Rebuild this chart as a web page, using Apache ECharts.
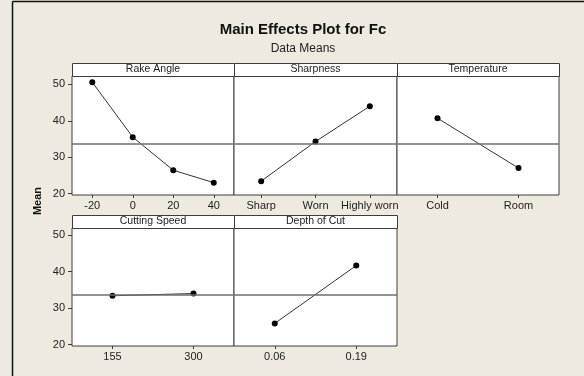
<!DOCTYPE html>
<html>
<head>
<meta charset="utf-8">
<script src="https://cdn.jsdelivr.net/npm/echarts@6/dist/echarts.min.js"></script>
<style>
  html, body { margin: 0; padding: 0; background: #eeeae0; }
  #chart { width: 584px; height: 376px; }
</style>
</head>
<body>
<div id="chart"></div>
<script>
// factor levels and the mean of Fc at each level
const rakeLevels = ['-20', '0', '20', '40'];
const rakeMeans = [50.6, 35.5, 26.4, 23.0];
const sharpLevels = ['Sharp', 'Worn', 'Highly worn'];
const sharpMeans = [23.4, 34.3, 44.0];
const tempLevels = ['Cold', 'Room'];
const tempMeans = [40.7, 27.0];
const speedLevels = ['155', '300'];
const speedMeans = [33.4, 34.0];
const depthLevels = ['0.06', '0.19'];
const depthMeans = [25.8, 41.7];
const grandMean = 33.75;
const yTicks = [20, 30, 40, 50];

const factors = [
    { name: 'Rake Angle', levels: rakeLevels, means: rakeMeans },
    { name: 'Sharpness', levels: sharpLevels, means: sharpMeans },
    { name: 'Temperature', levels: tempLevels, means: tempMeans },
    { name: 'Cutting Speed', levels: speedLevels, means: speedMeans },
    { name: 'Depth of Cut', levels: depthLevels, means: depthMeans }
];

// panel boxes (plot area, strip sits above it)
const panels = [
    { left: 72, top: 76, width: 162, height: 119, yMax: 52.3, first: true },
    { left: 234, top: 76, width: 163, height: 119, yMax: 52.3 },
    { left: 397, top: 76, width: 162, height: 119, yMax: 52.3 },
    { left: 72, top: 228, width: 162, height: 118, yMax: 52.0, first: true },
    { left: 234, top: 228, width: 163, height: 118, yMax: 52.0 }
];
const stripH = 13;
const font = '"Liberation Sans", Arial, sans-serif';
const frame = '#3c3c3c';

const chartDom = document.getElementById('chart');
const myChart = echarts.init(chartDom);

const graphics = [
    // window frame lines
    { type: 'line', shape: { x1: 12.5, y1: 1.5, x2: 584, y2: 1.5 }, style: { stroke: '#111', lineWidth: 1.5 } },
    { type: 'line', shape: { x1: 12.5, y1: 1.5, x2: 12.5, y2: 376 }, style: { stroke: '#111', lineWidth: 1.5 } },
    // y axis title, reads bottom to top
    {
        type: 'text', x: 38, y: 201, rotation: Math.PI / 2,
        style: {
            text: 'Mean', fill: '#111', font: 'bold 11px ' + font,
            textAlign: 'center', textVerticalAlign: 'middle'
        }
    }
];
panels.forEach((p, i) => {
    graphics.push({
        type: 'rect',
        shape: { x: p.left + 0.5, y: p.top - stripH + 0.5, width: p.width, height: stripH },
        style: { fill: '#ffffff', stroke: frame, lineWidth: 1 },
        z: 5
    });
    graphics.push({
        type: 'text',
        x: p.left + p.width / 2,
        y: p.top - stripH / 2,
        style: {
            text: factors[i].name, fill: '#222', font: '10.5px ' + font,
            textAlign: 'center', textVerticalAlign: 'middle'
        },
        z: 6
    });
});

const option = {
    backgroundColor: '#eeeae0',
    animation: false,
    title: [
        {
            text: 'Main Effects Plot for Fc',
            left: 298, top: 17, textAlign: 'center',
            textStyle: { fontFamily: font, fontSize: 15, fontWeight: 'bold', color: '#111' }
        },
        {
            text: 'Data Means',
            left: 298, top: 38, textAlign: 'center',
            textStyle: { fontFamily: font, fontSize: 12, fontWeight: 'normal', color: '#222' }
        }
    ],
    graphic: graphics,
    grid: panels.map(p => ({
        left: p.left, top: p.top, width: p.width, height: p.height,
        show: true, backgroundColor: '#ffffff', borderColor: frame, borderWidth: 1
    })),
    xAxis: panels.map((p, i) => ({
        type: 'category',
        gridIndex: i,
        data: factors[i].levels,
        boundaryGap: true,
        axisLine: { show: false },
        axisTick: { show: true, alignWithLabel: true, inside: false, length: 3, lineStyle: { color: frame } },
        axisLabel: { interval: 0, margin: 5, fontFamily: font, fontSize: 11, color: '#222' },
        splitLine: { show: false }
    })),
    yAxis: panels.map((p, i) => ({
        type: 'value',
        gridIndex: i,
        min: 19.6,
        max: p.yMax,
        axisLine: { show: false },
        axisTick: { show: !!p.first, length: 4, customValues: yTicks, lineStyle: { color: frame } },
        axisLabel: { show: !!p.first, margin: 7, customValues: yTicks, fontFamily: font, fontSize: 11, color: '#222' },
        splitLine: { show: false }
    })),
    series: factors.map((f, i) => ({
        name: f.name,
        type: 'line',
        xAxisIndex: i,
        yAxisIndex: i,
        data: f.means,
        symbol: 'circle',
        symbolSize: 6,
        itemStyle: { color: '#000' },
        lineStyle: { color: '#333', width: 1 },
        markLine: {
            silent: true,
            symbol: ['none', 'none'],
            label: { show: false },
            lineStyle: { color: '#6e6e6e', width: 1.5, type: 'solid' },
            data: [{ yAxis: grandMean }]
        }
    }))
};
myChart.setOption(option);
</script>
</body>
</html>
